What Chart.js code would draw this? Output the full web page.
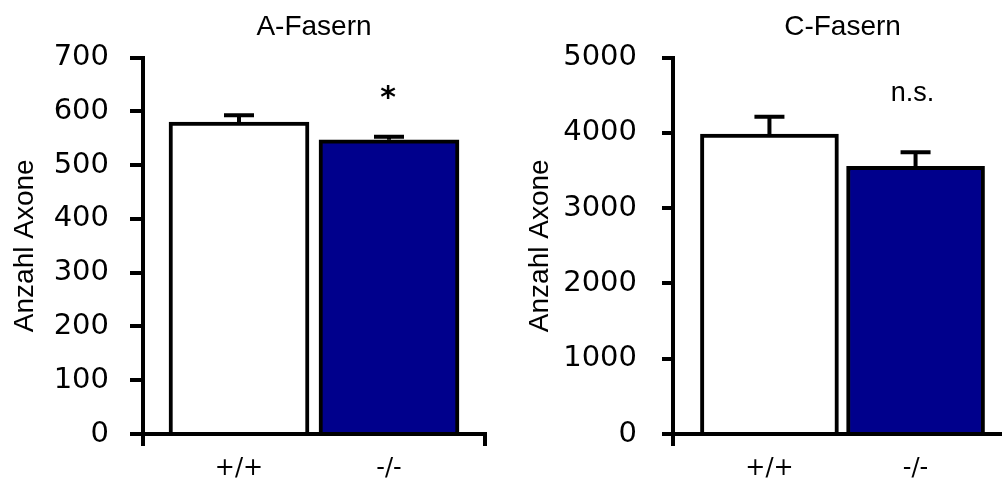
<!DOCTYPE html>
<html><head><meta charset="utf-8">
<script src="https://cdn.jsdelivr.net/npm/chart.js@4/dist/chart.umd.min.js"></script>
<style>
html,body{margin:0;padding:0;background:#fff;overflow:hidden;width:1002px;height:478px;position:relative;}
#w1{position:absolute;left:0;top:0;width:500px;height:478px;}
#w2{position:absolute;left:500px;top:0;width:520px;height:478px;}
</style></head><body>
<div id="w1"><canvas id="c1"></canvas></div>
<div id="w2"><canvas id="c2"></canvas></div>
<script>
// ---- data ----
const categories = ['+/+', '-/-'];
const yAxisTitle = 'Anzahl Axone';

const aTitle = 'A-Fasern';
const aValues = [580, 547];
const aErrors = [13, 6];
const aTicks = [0, 100, 200, 300, 400, 500, 600, 700];
const aNote = '*';

const cTitle = 'C-Fasern';
const cValues = [3985, 3555];
const cErrors = [230, 188];
const cTicks = [0, 1000, 2000, 3000, 4000, 5000];
const cNote = 'n.s.';

const barColors = ['#ffffff', '#00008c'];

Chart.defaults.font.family = 'DejaVu Sans';
Chart.defaults.color = '#000';

function makeChart(id, cfg) {
  const errPlugin = {
    id: 'errNotes',
    afterDatasetsDraw(chart) {
      const ctx = chart.ctx;
      const xs = chart.scales.x, ys = chart.scales.y;
      ctx.save();
      ctx.strokeStyle = '#000';
      ctx.lineWidth = 4;
      ctx.lineCap = 'butt';
      cfg.values.forEach((v, i) => {
        const x = xs.getPixelForValue(i + 1);
        const y0 = ys.getPixelForValue(v);
        const y1 = ys.getPixelForValue(v + cfg.errors[i]);
        ctx.beginPath();
        ctx.moveTo(x, y0);
        ctx.lineTo(x, y1);
        ctx.moveTo(x - 15, y1);
        ctx.lineTo(x + 15, y1);
        ctx.stroke();
      });
      // significance note above second group
      const nx = xs.getPixelForValue(2) + cfg.noteDx;
      ctx.fillStyle = '#000';
      ctx.font = cfg.noteFont;
      ctx.textAlign = 'center';
      ctx.textBaseline = 'alphabetic';
      const m = ctx.measureText(cfg.note);
      const h = m.actualBoundingBoxAscent + m.actualBoundingBoxDescent;
      const cy = chart.chartArea.top + cfg.noteDy;
      ctx.fillText(cfg.note, nx, cy + h / 2 - m.actualBoundingBoxDescent);
      ctx.restore();
    }
  };

  return new Chart(document.getElementById(id), {
    type: 'bar',
    data: {
      datasets: [{
        data: cfg.values.map((v, i) => ({ x: i + 1, y: v })),
        backgroundColor: barColors,
        borderColor: '#000',
        borderWidth: 4,
        barThickness: cfg.barW
      }]
    },
    options: {
      responsive: true,
      maintainAspectRatio: false,
      animation: false,
      events: [],
      layout: { padding: { top: 0, left: 0, right: cfg.padRight, bottom: 0 } },
      plugins: {
        legend: { display: false },
        tooltip: { enabled: false },
        title: {
          display: true,
          text: cfg.title,
          fullSize: false,
          color: '#000',
          font: { family: 'Liberation Sans', size: 28, weight: 'normal' },
          padding: { top: 10, bottom: 14 }
        }
      },
      scales: {
        x: {
          type: 'linear',
          offset: false,
          min: cfg.xMin,
          max: cfg.xMax,
          afterBuildTicks(scale) {
            scale.ticks = [{ value: cfg.xMin }, { value: 1 }, { value: 2 }, { value: cfg.xMax }];
          },
          afterFit(scale) { scale.height = 44; },
          ticks: {
            autoSkip: false,
            maxRotation: 0,
            padding: 8,
            font: { size: 24 },
            color: '#000',
            callback: (v, i) => (i === 1 || i === 2) ? categories[i - 1] : ''
          },
          grid: {
            offset: false,
            drawOnChartArea: false,
            drawTicks: true,
            tickLength: 12,
            lineWidth: 4,
            color: (c) => (c.index === 0 || c.index === 3) ? '#000' : 'rgba(0,0,0,0)'
          },
          border: { display: true, color: '#000', width: 4 }
        },
        y: {
          min: 0,
          max: cfg.ticks[cfg.ticks.length - 1],
          afterBuildTicks(scale) {
            scale.ticks = cfg.ticks.map(v => ({ value: v }));
          },
          afterFit(scale) { scale.width = cfg.yW; },
          ticks: {
            padding: cfg.tickPad,
            font: { size: 29 },
            color: '#000',
            callback: (v) => String(v)
          },
          grid: {
            drawOnChartArea: false,
            drawTicks: true,
            tickLength: cfg.tickLen,
            lineWidth: 4,
            color: '#000'
          },
          border: { display: true, color: '#000', width: 4 },
          title: {
            display: true,
            text: yAxisTitle,
            color: '#000',
            font: { family: 'Liberation Sans', size: 28, weight: 'normal' },
            padding: { top: cfg.yTitlePad, bottom: 0 }
          }
        }
      }
    },
    plugins: [errPlugin]
  });
}

makeChart('c1', {
  title: aTitle, values: aValues, errors: aErrors, ticks: aTicks,
  note: aNote, noteFont: 'bold 30px DejaVu Sans', noteDx: -1, noteDy: 35,
  xMin: 0.36, xMax: 2.64, barW: 140, yW: 143, padRight: 15,
  tickPad: 21, tickLen: 13, yTitlePad: 8
});

makeChart('c2', {
  title: cTitle, values: cValues, errors: cErrors, ticks: cTicks,
  note: cNote, noteFont: '27px Liberation Sans', noteDx: -3, noteDy: 36,
  xMin: 0.34, xMax: 2.66, barW: 138, yW: 173, padRight: 6,
  tickPad: 25, tickLen: 11, yTitlePad: 23
});
</script>
</body></html>
